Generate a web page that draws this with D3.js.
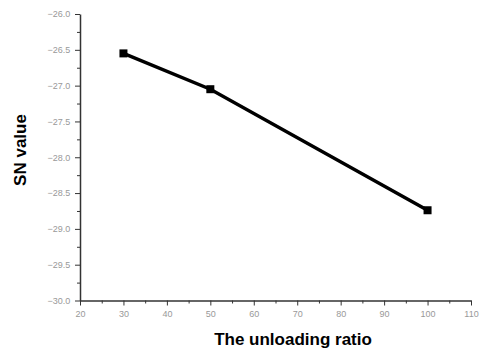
<!DOCTYPE html>
<html>
<head>
<meta charset="utf-8">
<script src="https://cdn.jsdelivr.net/npm/d3@7"></script>
<style>
  body { margin: 0; background: #fff; }
  svg { display: block; }
</style>
</head>
<body>
<script>
// data
const ratio = [30, 50, 100];
const snValue = [-26.55, -27.05, -28.74];
const xTicks = [20, 30, 40, 50, 60, 70, 80, 90, 100, 110];
const yTicks = [-26.0, -26.5, -27.0, -27.5, -28.0, -28.5, -29.0, -29.5, -30.0];

const width = 483;
const height = 354;

const x = d3.scaleLinear().domain([20, 110]).range([80, 471]);
const y = d3.scaleLinear().domain([-30, -26]).range([300.5, 14]);

const svg = d3.create("svg")
  .attr("width", width)
  .attr("height", height);

const tickFont = "Liberation Sans, Arial, sans-serif";

// x axis
const gx = svg.append("g")
  .attr("transform", `translate(0,${y(-30)})`);
gx.call(d3.axisBottom(x).tickValues(d3.range(25, 110, 10)).tickSize(3).tickFormat(""));
gx.call(g => g.select(".domain").remove());
gx.append("g")
  .call(d3.axisBottom(x).tickValues(xTicks).tickSize(5).tickSizeOuter(0).tickFormat(d3.format("d")))
  .call(g => g.select(".domain").attr("stroke-width", 1.5).attr("stroke", "#333"))
  .call(g => g.selectAll(".tick text").attr("fill", "#999").attr("font-size", 9).attr("font-family", tickFont).attr("dy", "0.9em"));

// y axis
const gy = svg.append("g")
  .attr("transform", `translate(${x(20)},0)`);
gy.call(d3.axisLeft(y).tickValues(d3.range(-29.75, -26, 0.5)).tickSize(3).tickFormat(""));
gy.call(g => g.select(".domain").remove());
gy.append("g")
  .call(d3.axisLeft(y).tickValues(yTicks).tickSize(5).tickSizeOuter(0).tickFormat(d3.format(".1f")))
  .call(g => g.select(".domain").attr("stroke-width", 1.5).attr("stroke", "#333"))
  .call(g => g.selectAll(".tick text").attr("fill", "#999").attr("font-size", 9).attr("font-family", tickFont).attr("dx", "-0.2em"));

svg.selectAll(".tick line").attr("stroke", "#333");

// axis titles
svg.append("text")
  .attr("x", 293)
  .attr("y", 345)
  .attr("text-anchor", "middle")
  .attr("font-family", "Liberation Sans, Arial, sans-serif")
  .attr("font-weight", "bold")
  .attr("font-size", 17)
  .text("The unloading ratio");

svg.append("text")
  .attr("transform", "translate(26,150) rotate(-90)")
  .attr("text-anchor", "middle")
  .attr("font-family", "Liberation Sans, Arial, sans-serif")
  .attr("font-weight", "bold")
  .attr("font-size", 17)
  .text("SN value");

// series
const points = ratio.map((r, i) => ({ r, v: snValue[i] }));

const line = d3.line()
  .x(d => x(d.r))
  .y(d => y(d.v));

svg.append("path")
  .attr("d", line(points))
  .attr("fill", "none")
  .attr("stroke", "#000")
  .attr("stroke-width", 3.5);

svg.append("g")
  .selectAll("rect")
  .data(points)
  .join("rect")
  .attr("x", d => x(d.r) - 4)
  .attr("y", d => y(d.v) - 4)
  .attr("width", 8)
  .attr("height", 8)
  .attr("fill", "#000");

document.body.appendChild(svg.node());
</script>
</body>
</html>
